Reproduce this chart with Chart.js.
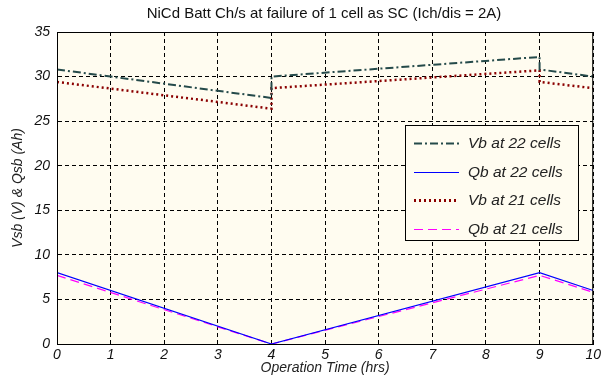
<!DOCTYPE html>
<html>
<head>
<meta charset="utf-8">
<script src="https://cdn.jsdelivr.net/npm/chart.js@4.4.0/dist/chart.umd.min.js"></script>
<style>
  html, body { margin:0; padding:0; background:#fff; }
  #wrap { width:605px; height:375px; }
</style>
</head>
<body>
<div id="wrap"><canvas id="c" width="605" height="375"></canvas></div>
<script>
// values (time in hrs; jumps at 4 and 9 h)
const chartTitle = 'NiCd Batt Ch/s at failure of 1 cell as SC (Ich/dis = 2A)';
const xTitle = 'Operation Time (hrs)';
const yTitle = 'Vsb (V) & Qsb (Ah)';

const vTime = [0, 4, 4, 9, 9, 10];
const vb22 = [30.8, 27.6, 30.0, 32.2, 30.8, 30.0];
const vb21 = [29.4, 26.4, 28.7, 30.7, 29.4, 28.7];

const qTime = [0, 4, 9, 10];
const qb22 = [8.0, 0.0, 8.0, 6.0];
const qb21 = [7.7, 0.0, 7.7, 5.8];

const seriesNames = ['Vb at 22 cells', 'Qb at 22 cells', 'Vb at 21 cells', 'Qb at 21 cells'];

const pts = (xs, ys) => xs.map((x, i) => ({ x, y: ys[i] }));

const plotBg = {
  id: 'plotBg',
  beforeDraw(chart) {
    const { ctx, chartArea: a } = chart;
    ctx.save();
    ctx.fillStyle = '#fffcf0';
    ctx.fillRect(a.left, a.top, a.right - a.left, a.bottom - a.top);
    ctx.restore();
  },
  afterDraw(chart) {
    const { ctx, chartArea: a } = chart;
    ctx.save();
    ctx.strokeStyle = '#000';
    ctx.lineWidth = 1;
    ctx.setLineDash([]);
    ctx.strokeRect(a.left + 0.5, a.top + 0.5, a.right - a.left - 1, a.bottom - a.top);
    // title
    ctx.fillStyle = '#111';
    ctx.font = '15px "Liberation Sans", Arial, sans-serif';
    ctx.textAlign = 'center';
    ctx.textBaseline = 'middle';
    ctx.fillText(chartTitle, 324, 14);

    // legend box
    const lx = 405, ly = 125, lw = 173, lh = 115;
    ctx.fillStyle = '#fffcf0';
    ctx.fillRect(lx, ly, lw, lh);
    ctx.strokeRect(lx + 0.5, ly + 0.5, lw, lh);
    ctx.font = 'italic 15.5px "Liberation Sans", Arial, sans-serif';
    ctx.textAlign = 'left';
    chart.data.datasets.forEach((ds, i) => {
      const y = Math.round(ly + 18 + i * 28.5) + 0.5;
      ctx.strokeStyle = ds.borderColor;
      ctx.lineWidth = Math.max(1, Math.round(ds.borderWidth));
      ctx.setLineDash(ds.borderDash || []);
      ctx.beginPath();
      ctx.moveTo(lx + 9, y);
      ctx.lineTo(lx + 54, y);
      ctx.stroke();
      ctx.setLineDash([]);
      ctx.fillStyle = '#222';
      ctx.fillText(seriesNames[i], lx + 63, y);
    });
    ctx.restore();
  }
};

const tickFont = { family: '"Liberation Sans", Arial, sans-serif', size: 14, style: 'italic', lineHeight: 1 };

new Chart(document.getElementById('c'), {
  type: 'line',
  data: {
    datasets: [
      { label: seriesNames[0], data: pts(vTime, vb22), borderColor: '#254a4a', borderWidth: 2, borderDash: [8, 3, 2, 3] },
      { label: seriesNames[1], data: pts(qTime, qb22), borderColor: '#0000ff', borderWidth: 1.2 },
      { label: seriesNames[2], data: pts(vTime, vb21), borderColor: '#8b0000', borderWidth: 2.5, borderDash: [2, 3] },
      { label: seriesNames[3], data: pts(qTime, qb21), borderColor: '#ff00ff', borderWidth: 1.2, borderDash: [9, 5] }
    ]
  },
  options: {
    responsive: false,
    animation: false,
    parsing: false,
    elements: { point: { radius: 0 }, line: { tension: 0 } },
    layout: { padding: { top: 32, right: 8, left: 0, bottom: 0 } },
    plugins: { legend: { display: false }, title: { display: false }, tooltip: { enabled: false } },
    scales: {
      x: {
        type: 'linear', min: 0, max: 10,
        ticks: { stepSize: 1, color: '#111', font: tickFont, padding: 4, maxRotation: 0 },
        grid: { color: '#000', lineWidth: 1, drawTicks: false },
        border: { display: true, color: '#000', dash: [4, 3] },
        title: { display: true, text: xTitle, color: '#222', font: tickFont, padding: { top: 0, bottom: 0 } },
        afterFit(s) { s.height = 31; }
      },
      y: {
        min: 0, max: 35,
        ticks: { stepSize: 5, color: '#111', font: tickFont, padding: 7 },
        grid: { color: '#000', lineWidth: 1, drawTicks: false },
        border: { display: true, color: '#000', dash: [4, 3] },
        title: { display: true, text: yTitle, color: '#222', font: tickFont, padding: { top: 11, bottom: 0 } },
        afterFit(s) { s.width = 57; }
      }
    }
  },
  plugins: [plotBg]
});
</script>
</body>
</html>
